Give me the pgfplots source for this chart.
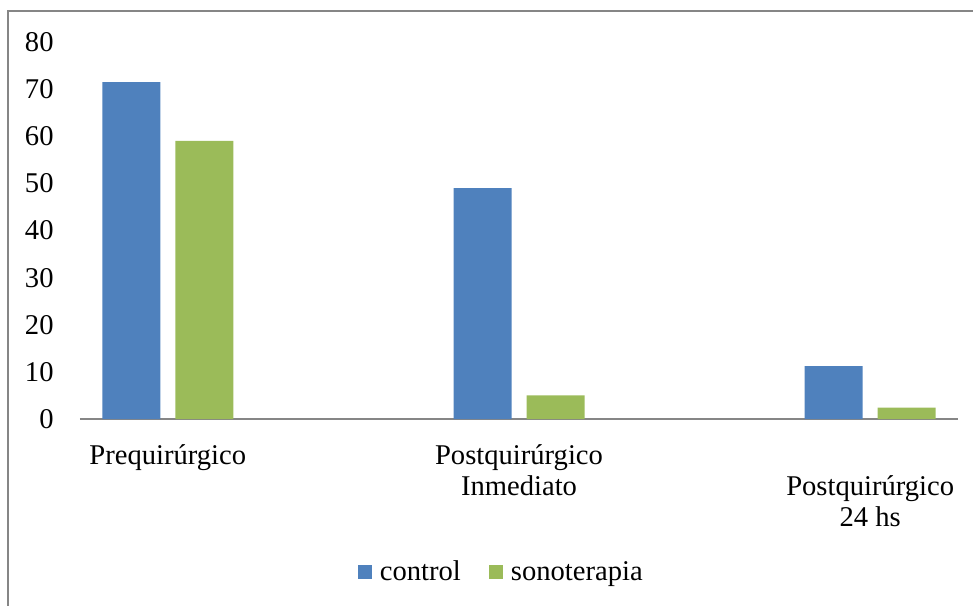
\documentclass[border=0pt]{standalone}
\usepackage{fontspec}
\setmainfont{Liberation Serif}
\usepackage{pgfplots}
\pgfplotsset{compat=1.18}
\definecolor{cblue}{HTML}{4F81BD}
\definecolor{cgreen}{HTML}{9BBB59}
\definecolor{cgray}{HTML}{868686}
\begin{document}
\begin{tikzpicture}[font=\fontsize{14.3}{15.5}\selectfont]
\useasboundingbox (0,0) rectangle (486.5pt,302.5pt);
\draw[cgray, line width=1pt] (4pt,-20pt) -- (4pt,297pt) -- (520pt,297pt);
\begin{axis}[
  at={(40pt,93pt)}, anchor=south west,
  width=439pt, height=188.5pt, scale only axis=true,
  ybar=7.5pt, bar width=29pt,
  xmin=-0.25, xmax=2.25, ymin=0, ymax=80,
  ytick={0,10,...,80},
  xtick={0,1},
  xticklabels={Prequirúrgico, {Postquirúrgico\\Inmediato}},
  extra x ticks={2},
  extra x tick labels={{Postquirúrgico\\24 hs}},
  extra x tick style={xticklabel style={yshift=-15.5pt}},
  axis x line*=bottom, axis y line*=left,
  x axis line style={cgray, line width=0.6pt, -},
  y axis line style={draw=none},
  tick style={draw=none},
  major tick length=0pt,
  /pgf/number format/assume math mode=true,
  yticklabel style={anchor=east, inner sep=0pt, xshift=-13pt},
  xticklabel style={anchor=north, inner sep=0pt, yshift=-12.5pt, align=center},
  legend columns=2,
  legend style={at={(0.481,-0.406)}, anchor=center, draw=none, fill=none,
    /tikz/every odd column/.append style={column sep=2pt},
    /tikz/every even column/.append style={column sep=12pt},
    font=\fontsize{14.3}{15.5}\selectfont},
  legend image code/.code={\fill[#1] (0pt,-3.5pt) rectangle (7pt,3.5pt);},
]
\addplot[fill=cblue, draw=none] coordinates {(0,71.5) (1,49.0) (2,11.2)};
\addplot[fill=cgreen, draw=none] coordinates {(0,59.0) (1,5.0) (2,2.4)};
\legend{control, sonoterapia}
\end{axis}
\end{tikzpicture}
\end{document}
